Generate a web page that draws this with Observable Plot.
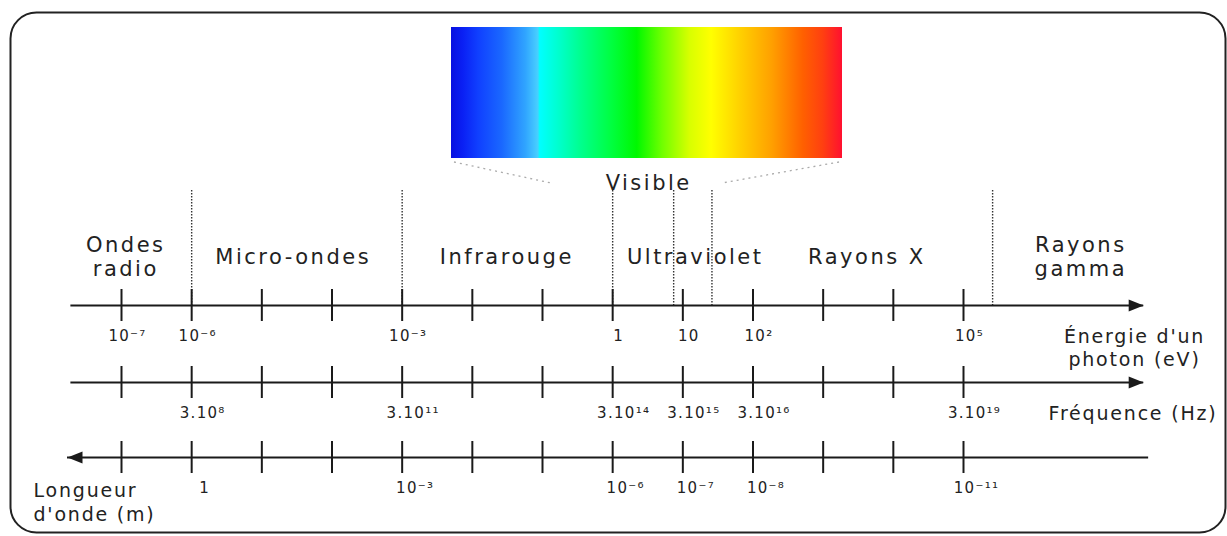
<!DOCTYPE html>
<html><head><meta charset="utf-8">
<script src="https://cdn.jsdelivr.net/npm/d3@7"></script>
<script src="https://cdn.jsdelivr.net/npm/@observablehq/plot@0.6"></script>
<style>
html,body{margin:0;padding:0;background:#fff;overflow:hidden}
g[font-size="21"] text{letter-spacing:2.5px}
g[font-size="19"] text{letter-spacing:1.8px}
g[font-size="15"] text{letter-spacing:1.3px}
</style></head><body><div id="chart"></div>
<script>
// ---- Data (energy in eV sets every horizontal position) ----
const energyTicks = [1e-7, 1e-6, 1e-5, 1e-4, 1e-3, 1e-2, 1e-1, 1, 10, 100, 1e3, 1e4, 1e5];
const energyLabelAt = [1e-7, 1e-6, 1e-3, 1, 10, 100, 1e5];
const energyLabelText = ["10⁻⁷", "10⁻⁶", "10⁻³", "1", "10", "10²", "10⁵"];
const freqLabelAt = [1e-6, 1e-3, 1, 10, 100, 1e5];
const freqLabelText = ["3.10⁸", "3.10¹¹", "3.10¹⁴", "3.10¹⁵", "3.10¹⁶", "3.10¹⁹"];
const waveLabelAt = [1e-6, 1e-3, 1, 10, 100, 1e5];
const waveLabelText = ["1", "10⁻³", "10⁻⁶", "10⁻⁷", "10⁻⁸", "10⁻¹¹"];
const regionNames = ["Ondes\nradio", "Micro-ondes", "Infrarouge", "Ultraviolet", "Rayons X", "Rayons\ngamma"];
const regionCenters = [1.15e-7, 2.8e-5, 0.031, 15, 4200, 4.7e6];
const boundaries = [1e-6, 1e-3, 1, 7.4, 26, 2.6e5];
const visibleName = ["Visible"];
const visibleCenter = [3.26];
const axisNames = ["Énergie d'un\nphoton (eV)", "Fréquence (Hz)", "Longueur\nd'onde (m)"];
const axisFrom = [1.9e-8, 1.9e-8, 1.7e-8];
const axisTo = [3.7e7, 3.7e7, 4.35e7];
const spectrumOffsets = [0, 0.03, 0.07, 0.13, 0.19, 0.222, 0.227, 0.28, 0.33, 0.41, 0.475, 0.54, 0.61, 0.665, 0.74, 0.82, 0.9, 0.95, 1];
const spectrumColors = ["#0810e0", "#0a20f4", "#1040ff", "#1a68ff", "#30a4ff", "#48d0ff", "#00ffff", "#00ffc8", "#00ff90", "#00ff40", "#00f800", "#70ff00", "#d8ff00", "#ffff00", "#ffd000", "#ffa000", "#ff6000", "#ff4010", "#ff1030"];

// ---- Layout (pixels) ----
const L = {
  spec: {x1: 451, x2: 842, y1: 27, y2: 158},
  visibleY: 183, boundTop: 190, regionY: 256,
  rows: [305, 382, 457], tickHalf: 16, labelGap: 31,
  labelDx: [6, 11, 13],
  sideY: [347, 413, 501]
};

const arrowRight = {draw(ctx) { ctx.moveTo(0, 0); ctx.lineTo(-15, -6); ctx.lineTo(-15, 6); ctx.closePath(); }};
const arrowLeft = {draw(ctx) { ctx.moveTo(0, 0); ctx.lineTo(15, -6); ctx.lineTo(15, 6); ctx.closePath(); }};

function spectrumMark() {
  const g = d3.create("svg:g");
  const grad = g.append("defs").append("linearGradient")
    .attr("id", "spec-grad").attr("x1", 0).attr("x2", 1).attr("y1", 0).attr("y2", 0);
  spectrumOffsets.forEach((o, i) => grad.append("stop").attr("offset", o).attr("stop-color", spectrumColors[i]));
  const s = L.spec;
  g.append("rect").attr("x", s.x1).attr("y", s.y1).attr("width", s.x2 - s.x1).attr("height", s.y2 - s.y1)
    .attr("fill", "url(#spec-grad)");
  g.append("path").attr("d", `M${s.x1 + 3},${s.y2 + 4}L${s.x1 + 100},${L.visibleY}M${s.x2 - 3},${s.y2 + 4}L${s.x2 - 120},${L.visibleY}`)
    .attr("stroke", "#aaa").attr("stroke-width", 1.3).attr("stroke-dasharray", "2,4").attr("fill", "none");
  return g.node();
}

const rowTicks = [];
for (let r = 0; r < 3; r++) for (const e of energyTicks) rowTicks.push({r, e});
const rowLabels = [
  ...energyLabelAt.map((e, i) => ({r: 0, e, t: energyLabelText[i]})),
  ...freqLabelAt.map((e, i) => ({r: 1, e, t: freqLabelText[i]})),
  ...waveLabelAt.map((e, i) => ({r: 2, e, t: waveLabelText[i]}))
];

const ink = "#1a1a1a";
const chart = Plot.plot({
  width: 1227, height: 536,
  marginLeft: 10, marginRight: 2, marginTop: 12, marginBottom: 4,
  style: {fontFamily: "'DejaVu Sans', sans-serif", background: "#fff", color: ink},
  x: {type: "log", domain: [1e-7, 1e5], range: [121, 963], axis: null},
  y: {type: "linear", domain: [0, 536], range: [0, 536], axis: null},
  marks: [
    Plot.frame({rx: 26, stroke: "#222", strokeWidth: 2}),
    spectrumMark,
    Plot.ruleX(boundaries, {x: d => d, y1: L.boundTop, y2: L.rows[0], stroke: "#333", strokeWidth: 1.4, strokeDasharray: "1.4,1.6"}),
    Plot.ruleY([0, 1, 2], {y: i => L.rows[i], x1: i => axisFrom[i], x2: i => axisTo[i], stroke: ink, strokeWidth: 2}),
    Plot.dot([0, 1], {x: i => axisTo[i], y: i => L.rows[i], symbol: arrowRight, fill: ink, stroke: "none"}),
    Plot.dot([2], {x: i => axisFrom[i], y: i => L.rows[i], symbol: arrowLeft, fill: ink, stroke: "none"}),
    Plot.ruleX(rowTicks, {x: "e", y1: d => L.rows[d.r] - L.tickHalf, y2: d => L.rows[d.r] + L.tickHalf, stroke: ink, strokeWidth: 2}),
    ...[0, 1, 2].map(r => Plot.text(rowLabels.filter(d => d.r === r), {x: "e", y: L.rows[r] + L.labelGap, text: "t",
      dx: L.labelDx[r], fontSize: 15, fill: "#222", textAnchor: "middle"})),
    Plot.text(regionNames, {x: (d, i) => regionCenters[i], y: L.regionY, text: d => d, fontSize: 21, lineHeight: 1.14, fill: "#222"}),
    Plot.text(visibleName, {x: (d, i) => visibleCenter[i], y: L.visibleY, text: d => d, fontSize: 21, fill: "#222"}),
    Plot.text([axisNames[0]], {frameAnchor: "right", y: L.sideY[0], text: d => d, dx: -91, textAnchor: "middle", fontSize: 19, lineHeight: 1.2, fill: "#222"}),
    Plot.text([axisNames[1]], {frameAnchor: "right", y: L.sideY[1], text: d => d, dx: -8, textAnchor: "end", fontSize: 19, fill: "#222"}),
    Plot.text([axisNames[2]], {frameAnchor: "left", y: L.sideY[2], text: d => d, dx: 23, textAnchor: "start", fontSize: 19, lineHeight: 1.25, fill: "#222"})
  ]
});
document.getElementById("chart").appendChild(chart);
</script></body></html>
